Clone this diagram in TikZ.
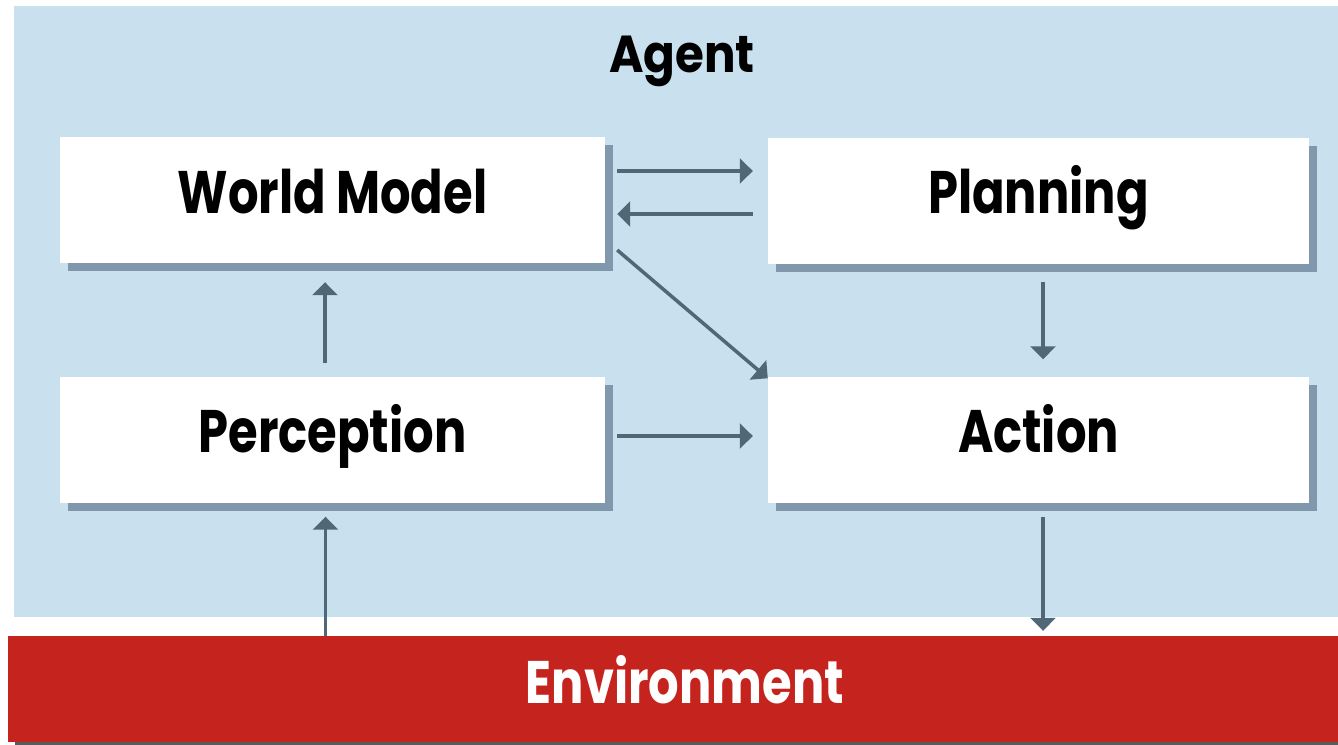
\documentclass[tikz,border=0pt]{standalone}
\usepackage{fontspec}
\newfontfamily\boxfont{Poppins}[FakeStretch=0.8]
\newfontfamily\titlefont{Poppins}[FakeStretch=0.9]
\usetikzlibrary{arrows.meta,shadows}
\definecolor{agentblue}{RGB}{201,224,238}
\definecolor{envred}{RGB}{197,36,30}
\definecolor{boxshadow}{RGB}{129,152,172}
\definecolor{arrowslate}{RGB}{80,103,120}
\definecolor{envshadow}{RGB}{90,90,90}

\begin{document}
\begin{tikzpicture}[x=1pt,y=-1pt,
  module/.style={fill=white,minimum width=545pt,minimum height=126pt,inner sep=0pt,
    text height=43pt,text depth=17pt,font=\boxfont\bfseries\fontsize{60}{60}\selectfont,
    drop shadow={shadow xshift=8pt,shadow yshift=-8pt,fill=boxshadow,opacity=1}},
  flow/.style={draw=arrowslate,line width=3.5pt,-{Triangle[width=25pt,length=13pt]}}]
\useasboundingbox (0,0) rectangle (1338,744);
\clip (0,0) rectangle (1338,744);
\fill[agentblue] (14,6) rectangle (1362,617);
\node[anchor=base,inner sep=0pt,font=\titlefont\bfseries\fontsize{52}{52}\selectfont] (agent) at (682,72) {Agent};
\node[module] (wm) at (332.5,200) {World Model};
\node[module,minimum width=541pt] (plan) at (1038.5,200.5) {Planning};
\node[module] (perc) at (332.5,439.5) {Perception};
\node[module,minimum width=541pt] (act) at (1038.5,439.5) {Action};
\node[fill=envred,minimum width=1354pt,minimum height=106pt,inner sep=0pt,text=white,
  text height=41pt,text depth=13pt,font=\boxfont\bfseries\fontsize{60}{60}\selectfont,
  drop shadow={shadow xshift=7pt,shadow yshift=-7pt,fill=envshadow,opacity=1}] (env) at (685,689) {Environment};
\draw[flow] ([xshift=12pt,yshift=29pt]wm.east) -- ([xshift=-15pt,yshift=29.5pt]plan.west);
\draw[flow] ([xshift=-15pt,yshift=-13.5pt]plan.west) -- ([xshift=12pt,yshift=-14pt]wm.east);
\draw[flow] ([xshift=12pt,yshift=-50pt]wm.east) -- ([yshift=-2pt]act.north west);
\draw[flow] ([xshift=-7.5pt,yshift=13pt]perc.north) -- ([xshift=-7.5pt,yshift=-19pt]wm.south);
\draw[flow] ([xshift=4.5pt,yshift=-18pt]plan.south) -- ([xshift=4.5pt,yshift=17pt]act.north);
\draw[flow] ([xshift=12pt,yshift=3.5pt]perc.east) -- ([xshift=-15pt,yshift=3.5pt]act.west);
\coordinate (percfoot) at ([xshift=-7pt,yshift=-14pt]perc.south);
\coordinate (actfoot) at ([xshift=4.5pt,yshift=-14pt]act.south);
\draw[flow] (percfoot |- env.north) -- (percfoot);
\draw[flow,shorten >=5pt] (actfoot) -- (actfoot |- env.north);
\end{tikzpicture}
\end{document}
